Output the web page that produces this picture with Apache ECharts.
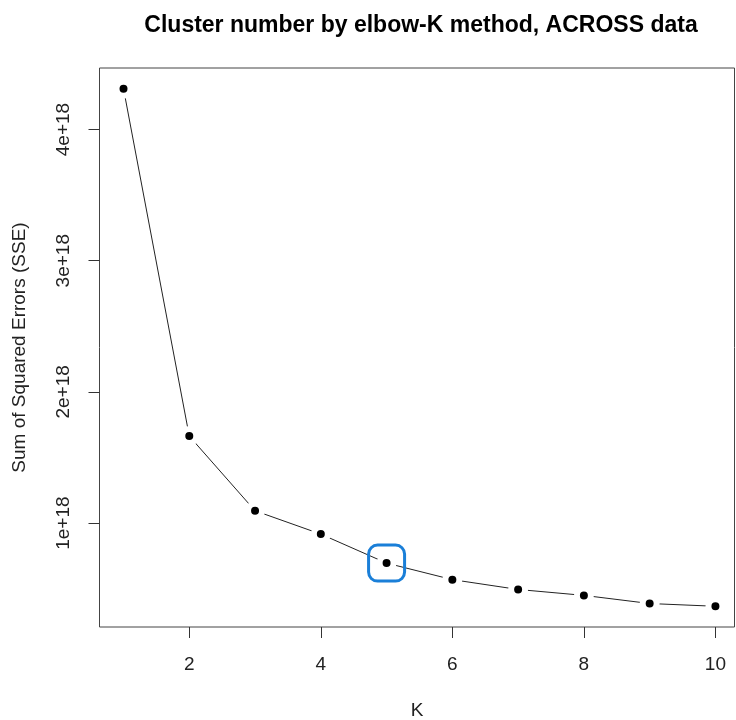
<!DOCTYPE html>
<html>
<head>
<meta charset="utf-8">
<script src="https://cdn.jsdelivr.net/npm/echarts@6/dist/echarts.min.js"></script>
<style>
  html, body { margin: 0; padding: 0; background: #fff; }
  #chart { width: 736px; height: 720px; }
</style>
</head>
<body>
<div id="chart"></div>
<script>
const kValues = [1, 2, 3, 4, 5, 6, 7, 8, 9, 10];
const sseValues = [4.311e18, 1.663e18, 1.094e18, 0.916e18, 0.695e18, 0.569e18, 0.494e18, 0.449e18, 0.387e18, 0.366e18];
const xTicks = [2, 4, 6, 8, 10];
const yTicks = [1e18, 2e18, 3e18, 4e18];
const elbowK = 5;

const chart = echarts.init(document.getElementById("chart"));
const font = "'Liberation Sans', Arial, sans-serif";

const option = {
  animation: false,
  title: {
    text: "Cluster number by elbow-K method, ACROSS data",
    left: 416,
    top: 9,
    textAlign: "center",
    textStyle: { fontFamily: font, fontSize: 23, fontWeight: "bold", color: "#000" },
  },
  grid: {
    left: 99.5,
    right: 1.5,
    top: 68,
    bottom: 93,
    outerBoundsMode: "none",
    containLabel: false,
    show: true,
    borderColor: "#444",
    borderWidth: 1,
  },
  xAxis: {
    type: "value",
    min: 0.635,
    max: 10.29,
    name: "K",
    nameLocation: "middle",
    nameGap: 74,
    nameTextStyle: { fontFamily: font, fontSize: 19, color: "#222" },
    axisLine: { show: false },
    splitLine: { show: false },
    axisTick: { show: true, length: 11, customValues: xTicks, lineStyle: { color: "#333" } },
    axisLabel: {
      customValues: xTicks,
      margin: 28,
      fontFamily: font, fontSize: 19, color: "#222",
    },
  },
  yAxis: {
    type: "value",
    min: 0.208e18,
    max: 4.469e18,
    name: "Sum of Squared Errors (SSE)",
    nameLocation: "middle",
    nameRotate: 90,
    nameGap: 70,
    nameTextStyle: { fontFamily: font, fontSize: 19, color: "#222" },
    axisLine: { show: false },
    splitLine: { show: false },
    axisTick: { show: true, length: 11, customValues: yTicks, lineStyle: { color: "#333" } },
    axisLabel: {
      customValues: yTicks,
      rotate: 90,
      margin: 26,
      fontFamily: font, fontSize: 19, color: "#222",
      formatter: v => `${Math.round(v / 1e18)}e+18`,
    },
  },
  series: [
    {
      type: "line",
      data: kValues.map((k, i) => [k, sseValues[i]]),
      symbol: "circle",
      symbolSize: 14,
      lineStyle: { color: "#222", width: 1 },
      itemStyle: { color: "#000", borderColor: "#fff", borderWidth: 6 },
      markPoint: {
        symbol: "roundRect",
        symbolSize: [36, 36],
        label: { show: false },
        itemStyle: { color: "rgba(0,0,0,0)", borderColor: "#1a7fd8", borderWidth: 3 },
        data: [{ coord: [elbowK, sseValues[kValues.indexOf(elbowK)]] }],
      },
    },
  ],
};

chart.setOption(option);
</script>
</body>
</html>
